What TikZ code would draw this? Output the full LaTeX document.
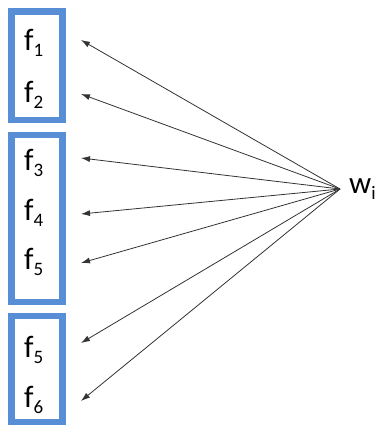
\documentclass[tikz,border=0pt]{standalone}
\usepackage{fontspec}
\setmainfont{Carlito}
\usetikzlibrary{arrows.meta}
\definecolor{boxblue}{RGB}{88,142,213}
\newcommand\mysub[1]{\raisebox{-0.2em}{\fontsize{19}{19}\selectfont #1}}
\tikzset{
  grp/.style={draw=boxblue, line width=6.5pt},
  lbl/.style={font=\fontsize{31}{31}\selectfont, inner sep=0pt, anchor=west},
  arr/.style={-{Latex[length=9pt,width=6pt]}, line width=0.8pt, black!80},
}
\begin{document}
\begin{tikzpicture}[x=1pt,y=-1pt]
\useasboundingbox (0,0) rectangle (382,428);
\draw[grp] (11.5,11.5) rectangle (62.5,120);
\draw[grp] (11.5,135) rectangle (62.5,302);
\draw[grp] (11.5,316) rectangle (62.5,422);
\node[lbl] (f1) at (24,43) {f\mysub{1}};
\node[lbl] (f2) at (24,95) {f\mysub{2}};
\node[lbl] (f3) at (24,163) {f\mysub{3}};
\node[lbl] (f4) at (24,213) {f\mysub{4}};
\node[lbl] (f5) at (24,262) {f\mysub{5}};
\node[lbl] (f5b) at (24,350) {f\mysub{5}};
\node[lbl] (f6) at (24,400) {f\mysub{6}};
\node[lbl] (w) at (349,189) {w\mysub{i}};
\coordinate (hub) at (340,189);
\coordinate (t1) at (81,40);
\coordinate (t2) at (81,94);
\coordinate (t3) at (81,158);
\coordinate (t4) at (81,214);
\coordinate (t5) at (81,263);
\coordinate (t6) at (81,343);
\coordinate (t7) at (81,401);
\foreach \t in {t1,t2,t3,t4,t5,t6,t7} \draw[arr] (hub) -- (\t);
\end{tikzpicture}
\end{document}
